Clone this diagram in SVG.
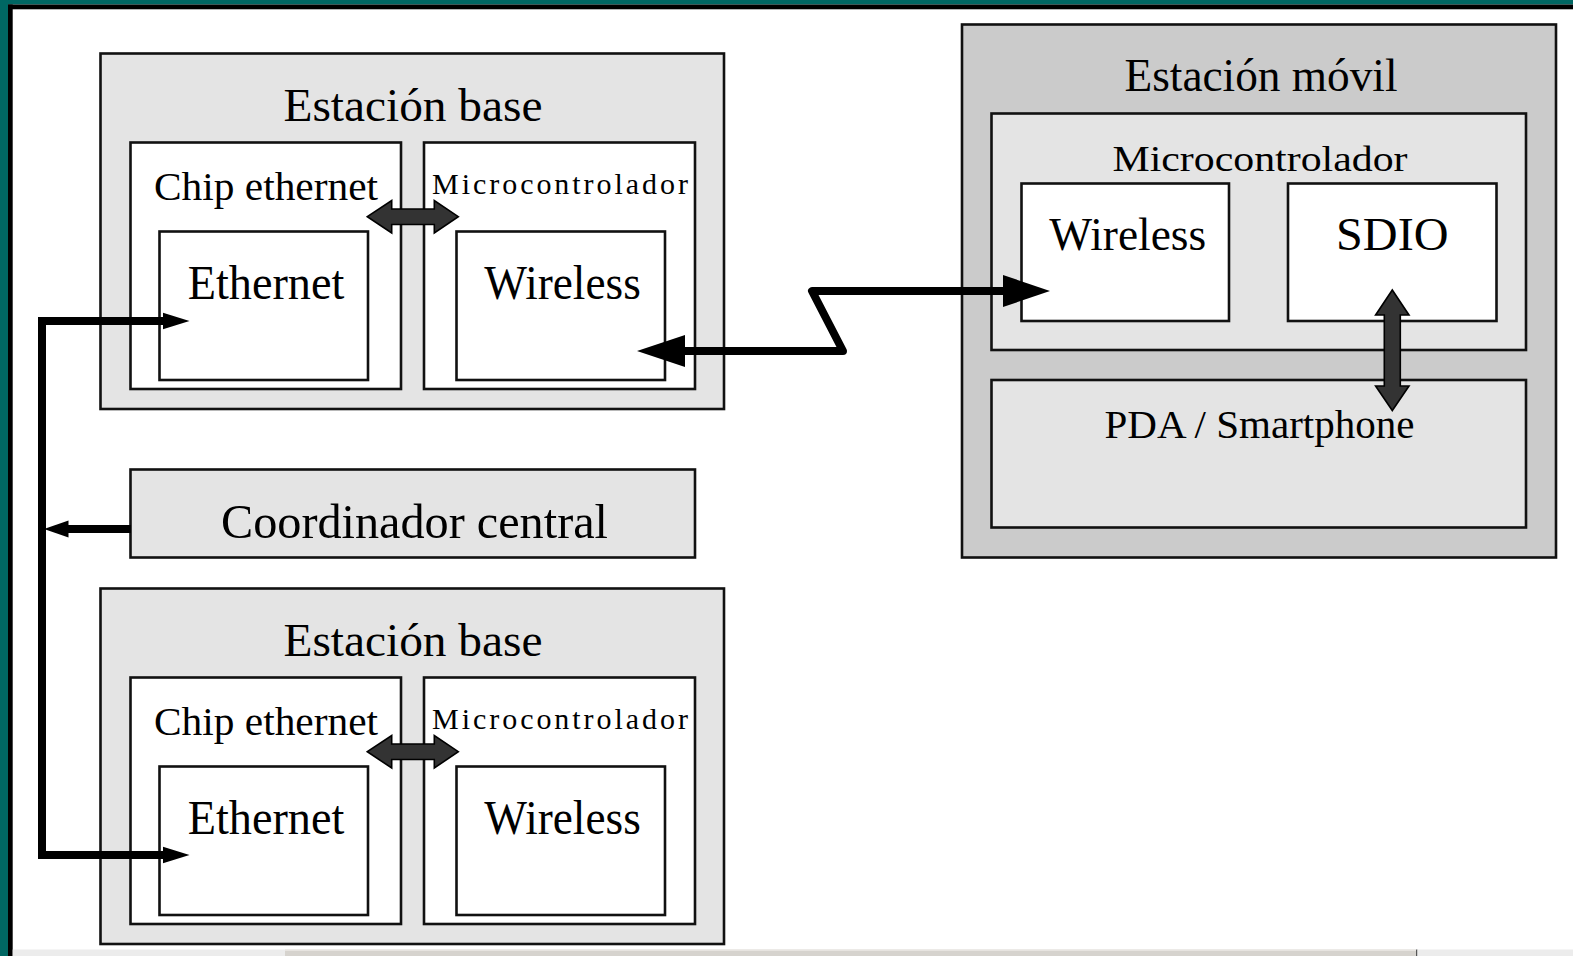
<svg xmlns="http://www.w3.org/2000/svg" width="1573" height="956" viewBox="0 0 1573 956">
<style>
.box{stroke:#111;stroke-width:2.6}
.g1{fill:#e4e4e4}
.g2{fill:#cbcbcb}
.w{fill:#fff}
text{font-family:"Liberation Serif","Times New Roman",serif;fill:#000}
.dbl{fill:#333;stroke:#000;stroke-width:1.6;stroke-linejoin:miter}
.ln{fill:none;stroke:#000;stroke-width:8}
.hd{fill:#000}
</style>
<rect x="0" y="0" width="1573" height="956" fill="#fff"/>
<rect x="0" y="0" width="1573" height="4.5" fill="#006763"/>
<rect x="0" y="0" width="8" height="956" fill="#006763"/>
<rect x="8" y="4.5" width="1565" height="4.8" fill="#000"/>
<rect x="8" y="4.5" width="4.7" height="951.5" fill="#000"/>
<rect x="12.7" y="949.5" width="272.3" height="6.5" fill="#ececec"/>
<rect x="285" y="949.5" width="1131" height="6.5" fill="#d6d3ce"/>
<rect x="285" y="949.5" width="1131" height="1.2" fill="#eeece8"/>
<rect x="1416" y="949.5" width="1.5" height="6.5" fill="#555"/>
<rect x="1417.5" y="949.5" width="155.5" height="6.5" fill="#ececec"/>

<g id="base1">
<rect class="box g1" x="100.5" y="53.5" width="623.5" height="355.5"/>
<text x="413" y="120.5" font-size="47" text-anchor="middle" textLength="259" lengthAdjust="spacingAndGlyphs">Estación base</text>
<g id="base1-chip">
<rect class="box w" x="130.5" y="142.5" width="270.5" height="246.5"/>
<text x="266" y="199.5" font-size="40" text-anchor="middle" textLength="224" lengthAdjust="spacingAndGlyphs">Chip ethernet</text>
</g>
<g id="base1-micro">
<rect class="box w" x="424" y="142.5" width="271" height="246.5"/>
<text x="560" y="193.5" font-size="30" text-anchor="middle" textLength="256" lengthAdjust="spacing">Microcontrolador</text>
</g>
<g id="base1-eth">
<rect class="box w" x="159.5" y="231.5" width="208.5" height="148.5"/>
<text x="266" y="299" font-size="48" text-anchor="middle" textLength="156.5" lengthAdjust="spacingAndGlyphs">Ethernet</text>
</g>
<g id="base1-wl">
<rect class="box w" x="456.5" y="231.5" width="208.5" height="148.5"/>
<text x="562.5" y="299" font-size="48" text-anchor="middle" textLength="156.5" lengthAdjust="spacingAndGlyphs">Wireless</text>
</g>
</g>

<g id="base2">
<rect class="box g1" x="100.5" y="588.5" width="623.5" height="355.5"/>
<text x="413" y="655.5" font-size="47" text-anchor="middle" textLength="259" lengthAdjust="spacingAndGlyphs">Estación base</text>
<g id="base2-chip">
<rect class="box w" x="130.5" y="677.5" width="270.5" height="246.5"/>
<text x="266" y="734.5" font-size="40" text-anchor="middle" textLength="224" lengthAdjust="spacingAndGlyphs">Chip ethernet</text>
</g>
<g id="base2-micro">
<rect class="box w" x="424" y="677.5" width="271" height="246.5"/>
<text x="560" y="728.5" font-size="30" text-anchor="middle" textLength="256" lengthAdjust="spacing">Microcontrolador</text>
</g>
<g id="base2-eth">
<rect class="box w" x="159.5" y="766.5" width="208.5" height="148.5"/>
<text x="266" y="834" font-size="48" text-anchor="middle" textLength="156.5" lengthAdjust="spacingAndGlyphs">Ethernet</text>
</g>
<g id="base2-wl">
<rect class="box w" x="456.5" y="766.5" width="208.5" height="148.5"/>
<text x="562.5" y="834" font-size="48" text-anchor="middle" textLength="156.5" lengthAdjust="spacingAndGlyphs">Wireless</text>
</g>
</g>

<g id="coordinador">
<rect class="box g1" x="130.5" y="469.5" width="564.5" height="88"/>
<text x="414.5" y="537.5" font-size="49" text-anchor="middle" textLength="387" lengthAdjust="spacingAndGlyphs">Coordinador central</text>
</g>

<g id="movil">
<rect class="box g2" x="962" y="24.5" width="594" height="533"/>
<text x="1261" y="90.5" font-size="47" text-anchor="middle" textLength="273" lengthAdjust="spacingAndGlyphs">Estación móvil</text>
<g id="movil-micro">
<rect class="box g1" x="991.5" y="113.5" width="534.5" height="236.5"/>
<text x="1260" y="171" font-size="36" text-anchor="middle" textLength="295" lengthAdjust="spacingAndGlyphs">Microcontrolador</text>
</g>
<g id="movil-wl">
<rect class="box w" x="1021.5" y="183.5" width="207.5" height="137.5"/>
<text x="1127.7" y="249.5" font-size="47" text-anchor="middle" textLength="157" lengthAdjust="spacingAndGlyphs">Wireless</text>
</g>
<g id="movil-sdio">
<rect class="box w" x="1288" y="183.5" width="208.5" height="137.5"/>
<text x="1392.3" y="249.5" font-size="47" text-anchor="middle" textLength="112.5" lengthAdjust="spacingAndGlyphs">SDIO</text>
</g>
<g id="movil-pda">
<rect class="box g1" x="991.5" y="380" width="534.5" height="147.5"/>
<text x="1259.5" y="438" font-size="41" text-anchor="middle" textLength="310" lengthAdjust="spacingAndGlyphs">PDA / Smartphone</text>
</g>
</g>

<g id="connectors">
<path class="ln" d="M42,317 V859"/>
<path class="ln" d="M38,321 H164"/>
<polygon class="hd" points="163,312.7 189.5,321 163,329.3"/>
<path class="ln" d="M38,855 H164"/>
<polygon class="hd" points="163,846.7 189.5,855 163,863.3"/>
<path class="ln" d="M131,529 H67"/>
<polygon class="hd" points="68.5,520.5 44,529 68.5,537.5"/>
<path class="ln" d="M684,351 H843 L812,291 H1005" stroke-linejoin="round"/>
<polygon class="hd" points="685,335 637,351 685,367"/>
<polygon class="hd" points="1003,275 1050,291 1003,307"/>
<polygon class="dbl" points="367.3,216.7 391.7,200.5 391.7,209 434.3,209 434.3,200.5 458.3,216.7 434.3,233 434.3,224.5 391.7,224.5 391.7,233"/>
<polygon class="dbl" points="367.3,751.7 391.7,735.5 391.7,744 434.3,744 434.3,735.5 458.3,751.7 434.3,768 434.3,759.5 391.7,759.5 391.7,768"/>
<polygon class="dbl" points="1392.3,290 1409,315 1400.3,315 1400.3,386 1409,386 1392.3,410.5 1375.6,386 1384.3,386 1384.3,315 1375.6,315"/>
</g>
</svg>
